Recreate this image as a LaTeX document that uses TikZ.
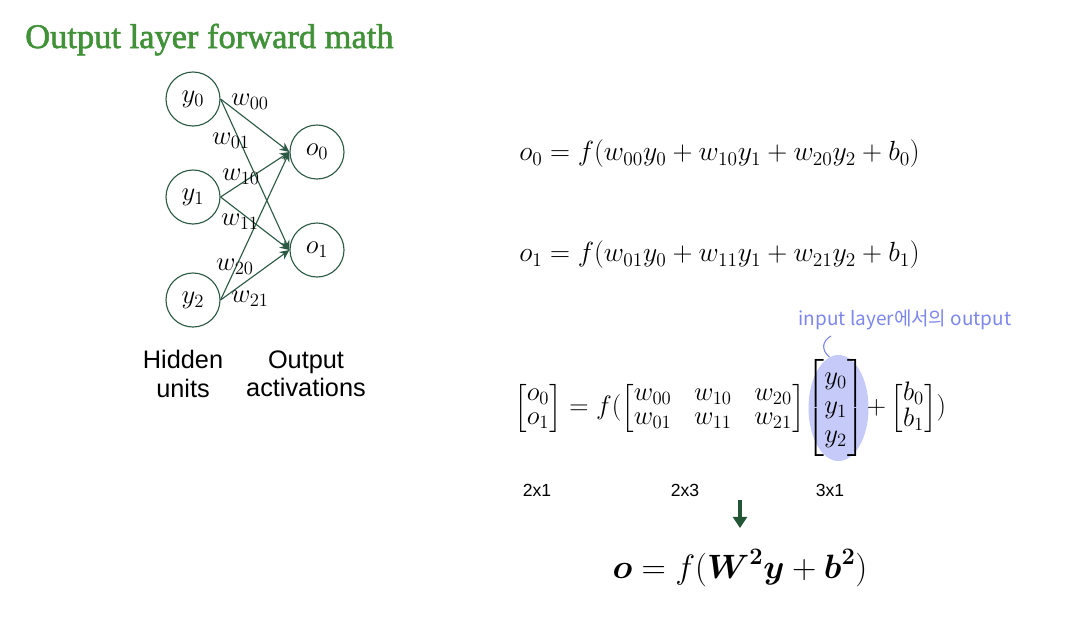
\RequirePackage{fix-cm}
\documentclass[tikz,border=0pt]{standalone}
\usepackage{amsmath,amssymb}
\usepackage{fontspec}
\setsansfont{Liberation Sans}
\newfontfamily\titlefont[FakeBold=1.6]{Liberation Serif}
\newfontfamily\notefont{Noto Sans CJK KR}
\usepackage{tikz}
\usetikzlibrary{arrows.meta,positioning,shapes.geometric,backgrounds}
\definecolor{titlegreen}{RGB}{64,145,56}
\definecolor{netline}{RGB}{45,90,68}
\definecolor{hilite}{RGB}{198,202,248}
\definecolor{notecol}{RGB}{125,135,235}
\definecolor{arrgreen}{RGB}{35,85,55}
\newcommand{\eqsize}{\fontsize{19}{23}\selectfont}

\begin{document}
\begin{tikzpicture}[x=0.025cm,y=-0.025cm,
  unit/.style={circle,draw=netline,line width=0.8pt,minimum size=1.35cm,inner sep=0pt,font=\eqsize},
  link/.style={draw=netline,line width=0.8pt,-{Stealth[length=2.4mm,width=2.2mm]}},
  wlbl/.style={font=\eqsize,inner sep=0pt},
  eqn/.style={font=\eqsize,inner sep=0pt},
  caption/.style={font=\sffamily\fontsize{18}{20}\selectfont,align=center},
  dimlbl/.style={font=\sffamily\fontsize{12.5}{15}\selectfont}]
  \useasboundingbox (0,0) rectangle (1086,626);

  \node[anchor=base west,inner sep=0pt,font=\titlefont\fontsize{24.5}{28}\selectfont,text=titlegreen] (title) at (25,48) {Output layer forward math};

  \node[unit] (y0) at (193,99) {$y_0$};
  \node[unit] (y1) at (193,197) {$y_1$};
  \node[unit] (y2) at (193,300) {$y_2$};
  \node[unit] (o0) at (317,152) {$o_0$};
  \node[unit] (o1) at (317,250) {$o_1$};

  \foreach \i in {0,1,2}
    \foreach \j in {0,1}
      \draw[link] (y\i.east) -- (o\j.west);

  \node[wlbl] (w00) at (250,102) {$w_{00}$};
  \node[wlbl] (w01) at (231,141) {$w_{01}$};
  \node[wlbl] (w10) at (241,177) {$w_{10}$};
  \node[wlbl] (w11) at (240,222) {$w_{11}$};
  \node[wlbl] (w20) at (235,267) {$w_{20}$};
  \node[wlbl] (w21) at (250,299) {$w_{21}$};

  \node[caption] (hidcap) at (183,374) {Hidden\\units};
  \node[caption] (outcap) at (306,374) {Output\\activations};

  \node[eqn,anchor=west,font=\fontsize{19.7}{23}\selectfont] (eqa) at (519,154) {$o_0=f(w_{00}y_0+w_{10}y_1+w_{20}y_2+b_0)$};
  \node[eqn,anchor=west,font=\fontsize{19.7}{23}\selectfont] (eqb) at (519,255) {$o_1=f(w_{01}y_0+w_{11}y_1+w_{21}y_2+b_1)$};

  \node[eqn,anchor=west] (mlhs) at (514,408) {\arraycolsep=8pt\renewcommand{\arraystretch}{0.75}%
    $\begin{bmatrix}o_0\\o_1\end{bmatrix}=f(\begin{bmatrix}w_{00}&w_{10}&w_{20}\\w_{01}&w_{11}&w_{21}\end{bmatrix}$};
  \node[eqn,right=1pt of mlhs] (yvec) {\renewcommand{\arraystretch}{0.9}%
    $\begin{bmatrix}y_0\\y_1\\y_2\end{bmatrix}$};
  \node[eqn,right=1pt of yvec] (mrhs) {\renewcommand{\arraystretch}{0.75}%
    $+\begin{bmatrix}b_0\\b_1\end{bmatrix})$};

  \begin{pgfonlayer}{background}
    \node[ellipse,fill=hilite,minimum width=1.5cm,minimum height=2.65cm,xshift=0.07cm] (yhl) at (yvec) {};
  \end{pgfonlayer}

  \node[font=\notefont\fontsize{13.5}{16}\selectfont,text=notecol] (note) at (905,320) {input layer에서의 output};
  \coordinate (tick) at (831,336);
  \draw[notecol,line width=0.8pt] (tick) .. controls (822,341) and (821,350) .. (yhl.100);

  \node[dimlbl] (d21) at (537,490) {2x1};
  \node[dimlbl] (d23) at (685,490) {2x3};
  \node[dimlbl] (d31) at (830,490) {3x1};

  \coordinate (arrtop) at (740,500);
  \coordinate (arrend) at (740,528);
  \draw[arrgreen,line width=2.2pt,-{Triangle[length=8pt,width=10pt]}] (arrtop) -- (arrend);

  \node[font=\fontsize{24}{28}\selectfont,inner sep=0pt] (final) at (740,568)
    {$\boldsymbol{o}=f(\boldsymbol{W}^{\boldsymbol{2}}\boldsymbol{y}+\boldsymbol{b}^{\boldsymbol{2}})$};
\end{tikzpicture}
\end{document}
